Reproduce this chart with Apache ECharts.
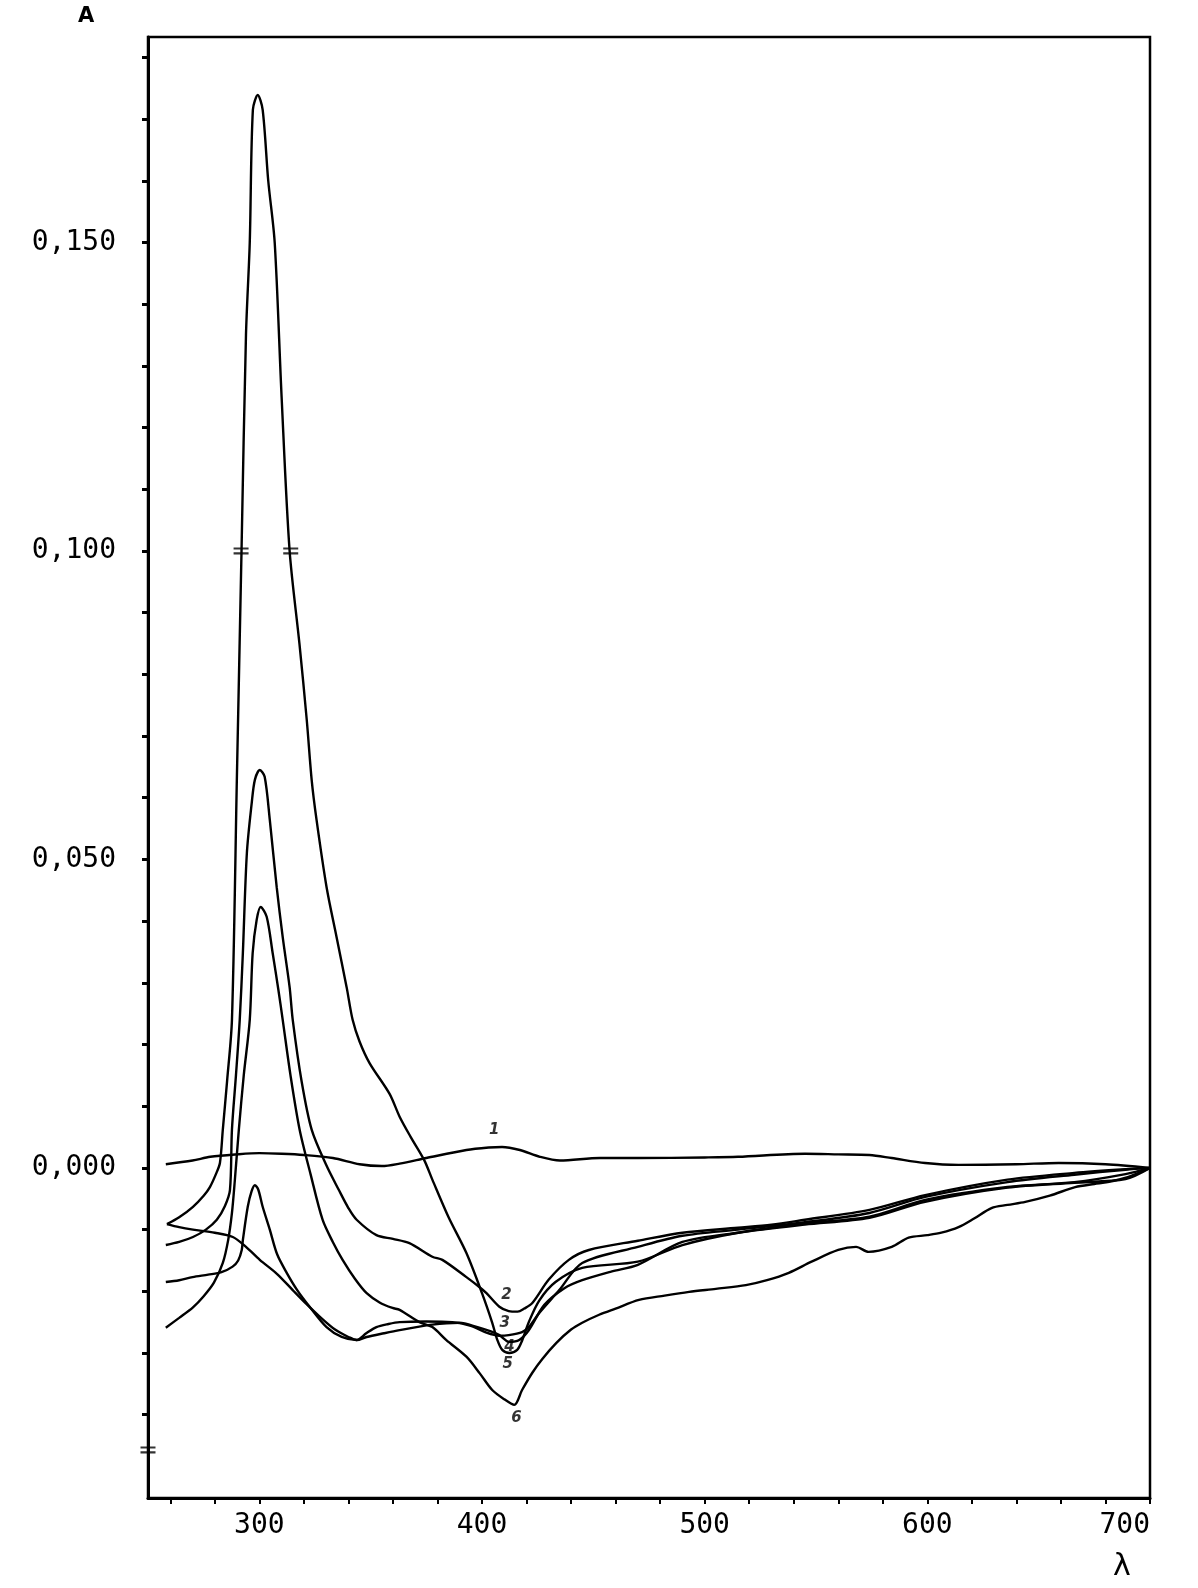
<!DOCTYPE html>
<html><head><meta charset="utf-8">
<script src="https://cdn.jsdelivr.net/npm/echarts@6/dist/echarts.min.js"></script>
<style>html,body{margin:0;padding:0;background:#fff}#chart{width:1198px;height:1588px}</style>
</head><body><div id="chart"></div>
<script>
// wavelength (nm) / absorbance pairs
const curve1 = [[258,0.0006],[270,0.0012],[278,0.0018],[290,0.0022],[300,0.0024],[310,0.0023],[320,0.0021],[333,0.0016],[345,0.0006],[355,0.0003],[363,0.0007],[375,0.0016],[393,0.0029],[403,0.0033],[409,0.0034],[417,0.0029],[426,0.0018],[435,0.0012],[453,0.0016],[470,0.0016],[500,0.0017],[515,0.0018],[545,0.0023],[560,0.0022],[574,0.0021],[584,0.0016],[599,0.0008],[614,0.0005],[640,0.0006],[659,0.0008],[680,0.0006],[700,0.0000]];

const curve2 = [[258,-0.0125],[264,-0.0120],[270.2,-0.0112],[276,-0.0100],[280.9,-0.0084],[284.5,-0.0062],[286.8,-0.0036],[287.7,0.0062],[289.5,0.015],[291.2,0.024],[292.6,0.0348],[294.4,0.051],[296.6,0.0592],[298,0.0629],[300.2,0.0645],[302.4,0.0634],[304.7,0.0564],[307.8,0.0455],[310.5,0.0374],[313.6,0.0293],[315,0.024],[319,0.014],[323.5,0.0062],[330,0.0005],[335.6,-0.0035],[340,-0.0065],[343.7,-0.0084],[352.6,-0.0109],[360,-0.0115],[367.4,-0.0122],[377.7,-0.0144],[382.2,-0.0149],[393,-0.0177],[398.8,-0.0193],[402,-0.0203],[407.8,-0.0225],[412,-0.0232],[416,-0.0233],[419,-0.0228],[422.6,-0.0219],[430,-0.0181],[439,-0.0149],[448,-0.0133],[470,-0.0118],[490,-0.0105],[515,-0.0097],[530,-0.0092],[545,-0.0084],[574,-0.0068],[599,-0.0044],[636,-0.0019],[666,-0.0008],[689,-0.0002],[700,0]];

const curve3 = [[258.5,-0.0091],[264,-0.0096],[270.2,-0.0100],[280,-0.0105],[288.1,-0.0112],[294,-0.0128],[300.2,-0.0149],[308,-0.0172],[315,-0.0198],[321,-0.0220],[327.1,-0.0241],[334,-0.0262],[340,-0.0274],[343.7,-0.0279],[348,-0.0268],[352.6,-0.0258],[358,-0.0253],[363,-0.0250],[375,-0.0249],[386.7,-0.0250],[395,-0.0256],[402,-0.0267],[407.8,-0.0272],[412,-0.0271],[418,-0.0266],[421,-0.0258],[425.7,-0.0235],[434.7,-0.0198],[445,-0.0154],[470,-0.0128],[490,-0.0110],[515,-0.0100],[545,-0.0088],[574,-0.0073],[599,-0.0047],[636,-0.0023],[666,-0.0011],[689,-0.0003],[700,0]];

const curve4 = [[258,-0.0185],[264,-0.0182],[270,-0.0177],[277,-0.0173],[283,-0.0169],[288,-0.0160],[290.5,-0.0150],[292.1,-0.0133],[292.6,-0.0117],[294.8,-0.0063],[296.5,-0.0038],[298,-0.0028],[299.5,-0.0035],[301.5,-0.0063],[304.7,-0.0100],[308,-0.0140],[312.3,-0.0170],[317,-0.0198],[322.6,-0.0225],[330.2,-0.0258],[337,-0.0274],[343.7,-0.0279],[348.2,-0.0274],[356,-0.0268],[363,-0.0263],[377.7,-0.0254],[389.8,-0.0251],[398,-0.0258],[404,-0.0265],[407.8,-0.0271],[412.3,-0.0282],[416.7,-0.0279],[421,-0.0263],[428,-0.0222],[437,-0.0195],[445,-0.0182],[458,-0.0168],[470,-0.0157],[490,-0.0120],[515,-0.0105],[545,-0.0092],[574,-0.0081],[599,-0.0055],[636,-0.0032],[666,-0.0024],[689,-0.0018],[700,0]];

const curve5 = [[258.5,-0.0091],[264,-0.0080],[270.2,-0.0063],[275,-0.0045],[277.8,-0.0031],[280.5,-0.0010],[282.3,0.0008],[283.6,0.0062],[285.5,0.014],[287.7,0.024],[289.9,0.0629],[292,0.100],[294,0.135],[295.7,0.150],[297.1,0.1715],[299.3,0.1739],[301.5,0.1715],[304,0.160],[306.9,0.150],[310,0.125],[313.6,0.100],[318,0.085],[321.3,0.0726],[323.5,0.0629],[325.7,0.0564],[330.2,0.0455],[334.7,0.0374],[339.2,0.0293],[341.9,0.024],[345,0.0205],[349.5,0.017],[358.5,0.012],[363,0.0083],[368,0.005],[374,0.0013],[377.7,-0.0019],[385,-0.0080],[393,-0.0138],[400,-0.0203],[404.6,-0.0251],[406.9,-0.0279],[409.1,-0.0295],[412.3,-0.0300],[415.8,-0.0295],[418,-0.0280],[421,-0.0250],[425.7,-0.0215],[433,-0.0185],[445,-0.0162],[470,-0.0152],[490,-0.0125],[515,-0.0105],[545,-0.0090],[574,-0.0079],[599,-0.0052],[636,-0.0031],[666,-0.0023],[689,-0.0010],[700,0]];

const curve6 = [[258,-0.0259],[264,-0.0243],[270.2,-0.0226],[275,-0.0208],[279.6,-0.0186],[283.6,-0.0154],[286,-0.0117],[287.7,-0.0073],[289,-0.0020],[290.8,0.0062],[293,0.015],[295.7,0.024],[297,0.0348],[298.8,0.0402],[300.6,0.0423],[303.3,0.0407],[306,0.0348],[308.5,0.029],[310.5,0.024],[314,0.015],[318.1,0.0062],[323,-0.0010],[328.4,-0.0084],[333,-0.0120],[337.4,-0.0149],[343,-0.0180],[348.2,-0.0203],[354,-0.0218],[359.8,-0.0227],[363,-0.0230],[371.9,-0.0250],[377.7,-0.0258],[384,-0.0279],[393,-0.0306],[399,-0.0333],[404.6,-0.0360],[410,-0.0375],[414.5,-0.0384],[418,-0.0360],[422.6,-0.0332],[427,-0.0310],[433.3,-0.0284],[440,-0.0262],[445,-0.0251],[452.6,-0.0238],[460,-0.0228],[470.5,-0.0214],[482,-0.0207],[493,-0.0201],[505,-0.0196],[518.5,-0.0190],[528,-0.0182],[537.8,-0.0170],[548,-0.0152],[560,-0.0133],[568,-0.0128],[573.6,-0.0136],[584,-0.0128],[591.6,-0.0113],[600,-0.0109],[606.3,-0.0105],[614,-0.0096],[621,-0.0082],[628.8,-0.0065],[636,-0.0060],[644,-0.0055],[655,-0.0045],[666.4,-0.0031],[675,-0.0026],[681,-0.0023],[690,-0.0015],[700,0]];

const xTicks = [260,280,300,320,340,360,380,400,420,440,460,480,500,520,540,560,580,600,620,640,660,680,700];
const xLabels = [300,400,500,600,700];
const yTicks = [-0.04,-0.03,-0.02,-0.01,0,0.01,0.02,0.03,0.04,0.05,0.06,0.07,0.08,0.09,0.10,0.11,0.12,0.13,0.14,0.15,0.16,0.17,0.18];
const yLabels = [0,0.05,0.10,0.15];

// curve numbers written next to the minima
const curveTags = [{value:[405.5,0.0062],name:'1'},{value:[411,-0.0206],name:'2'},{value:[410.2,-0.0251],name:'3'},{value:[412.3,-0.0290],name:'4'},{value:[411.5,-0.0318],name:'5'},{value:[415.5,-0.0405],name:'6'}];
// axis / scale break marks
const breakMarks = [[291.8,0.100],[314.1,0.100],[250,-0.0457]];

const curves = [curve1, curve2, curve3, curve4, curve5, curve6];

const chart = echarts.init(document.getElementById('chart'), null, {renderer:'canvas'});
const FONT = 'DejaVu Sans Mono';
const series = curves.map((d,i)=>({
  type:'line', name:'curve'+(i+1), data:d, showSymbol:false, symbol:'none',
  smooth:0.3, lineStyle:{color:'#000', width:2.4}, z:3, silent:true
}));
series.push({
  type:'scatter', data:curveTags, symbolSize:0, silent:true, z:5,
  label:{show:true, formatter:'{b}', position:'inside', color:'#000', fontFamily:'DejaVu Sans', fontSize:15, fontStyle:'italic', fontWeight:'bold'}
});
series.push({
  type:'scatter', data:breakMarks, clip:false, silent:true, z:6,
  symbol:'path://M0,0L20,0L20,2.2L0,2.2ZM0,5L20,5L20,7.2L0,7.2Z', symbolSize:[15,7],
  itemStyle:{color:'#000'}
});

chart.setOption({
  animation:false,
  backgroundColor:'#fff',
  grid:{left:148, right:48, top:37, bottom:90, containLabel:false, outerBoundsMode:'none',
        show:true, borderColor:'#000', borderWidth:2.5, backgroundColor:'transparent'},
  xAxis:{type:'value', min:250, max:700,
    axisLine:{show:true, onZero:false, lineStyle:{color:'#000', width:3}},
    axisTick:{show:true, customValues:xTicks, length:6, lineStyle:{color:'#000', width:2}},
    axisLabel:{show:true, customValues:xLabels, margin:14, color:'#000', fontFamily:FONT, fontSize:28, alignMaxLabel:'right'},
    splitLine:{show:false}},
  yAxis:{type:'value', min:-0.0535, max:0.1833,
    axisLine:{show:true, onZero:false, lineStyle:{color:'#000', width:3}},
    axisTick:{show:true, customValues:yTicks, length:6, lineStyle:{color:'#000', width:3}},
    axisLabel:{show:true, customValues:yLabels, margin:32, color:'#000', fontFamily:FONT, fontSize:28,
      formatter:v=>v.toFixed(3).replace('.', ',')},
    splitLine:{show:false}},
  graphic:[
    {type:'text', left:78, top:6, style:{text:'A', font:'bold 21px "DejaVu Sans"', fill:'#000'}},
    {type:'text', left:1113, top:1552, style:{text:'λ', font:'30px "DejaVu Sans"', fill:'#000'}}
  ],
  series:series
});
</script>
</body></html>
